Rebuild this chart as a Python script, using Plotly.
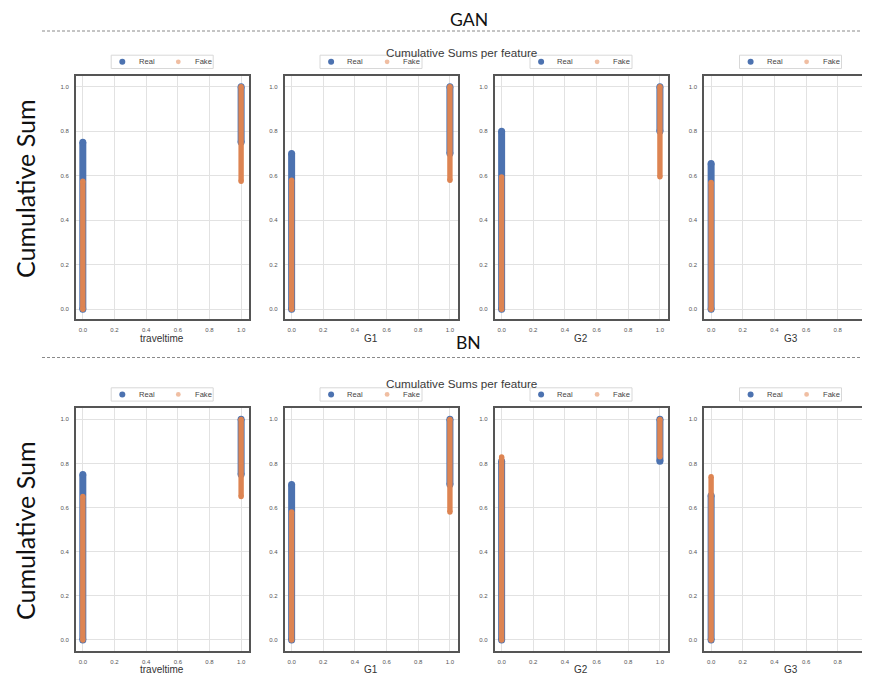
import plotly.graph_objects as go

# ---------------- data ----------------
features = ["traveltime", "G1", "G2", "G3"]
feature_values = [0, 1]                       # binary feature values on the x axis
gan_real_zero_share = [0.75, 0.70, 0.80, 0.655]   # cumulative sum reached at value 0
gan_fake_zero_share = [0.575, 0.58, 0.595, 0.57]
bn_real_zero_share = [0.75, 0.705, 0.81, 0.655]
bn_fake_zero_share = [0.65, 0.58, 0.83, 0.74]
row_titles = ["GAN", "BN"]
series_names = ["Real", "Fake"]
tick_values = [0.0, 0.2, 0.4, 0.6, 0.8, 1.0]
suptitle = "Cumulative Sums per feature"
big_ylabel = "Cumulative Sum"

# ---------------- layout helpers ----------------
# The page body keeps its default 8px margin, so the figure is made 8px
# smaller and every screen position is shifted by that margin.
PAGE_W, PAGE_H = 870, 681
OFF = 8
W, H = PAGE_W - OFF, PAGE_H - OFF


def px(x):
    return (x - OFF) / W


def py(y):
    return 1 - (y - OFF) / H


REAL = "#4C72B0"
FAKE = "#DD8452"
FAKE_LEGEND = "#F0BEA2"
FRAME = "#555555"
GRID = "#E2E2E2"

col_left = [75.7, 284.5, 494.5, 704.0]
panel_w = 173.3
row_top = [75.7, 408.3]
panel_h = [243.3, 242.7]
y_ranges = [[-0.0436, 1.0494], [-0.05, 1.05]]
x_unit = 158.3
x_left = -0.045
axis_title_y = [338.5, 669.5]

rows_data = [
    (gan_real_zero_share, gan_fake_zero_share),
    (bn_real_zero_share, bn_fake_zero_share),
]

fig = go.Figure()
shapes = []
annotations = []

for r in range(2):
    real_vals, fake_vals = rows_data[r]
    top = row_top[r]
    bottom = top + panel_h[r]
    for c in range(4):
        idx = r * 4 + c + 1
        left = col_left[c]
        right = min(left + panel_w, PAGE_W)
        x_right = x_left + (right - left) / x_unit
        xname = "x" if idx == 1 else f"x{idx}"
        yname = "y" if idx == 1 else f"y{idx}"
        xkey = "xaxis" if idx == 1 else f"xaxis{idx}"
        ykey = "yaxis" if idx == 1 else f"yaxis{idx}"

        for name, p0, color, width in [
            (series_names[0], real_vals[c], REAL, 7.0),
            (series_names[1], fake_vals[c], FAKE, 5.4),
        ]:
            v0, v1 = feature_values
            fig.add_trace(go.Scatter(
                x=[v0, v0, None, v1, v1],
                y=[0, p0, None, p0, 1],
                mode="lines+markers",
                line=dict(color=color, width=width),
                marker=dict(color=color, size=width),
                name=name,
                showlegend=False,
                xaxis=xname, yaxis=yname,
                hoverinfo="x+y+name",
            ))

        fig.update_layout({
            xkey: dict(
                domain=[px(left), min(px(right), 1)],
                range=[x_left, x_right],
                anchor=yname,
                automargin=False,
                showgrid=True, gridcolor=GRID, gridwidth=1,
                zeroline=False,
                showline=True, linecolor=FRAME, linewidth=1.5, mirror=True,
                tickvals=tick_values, tickformat=".1f",
                tickfont=dict(size=6, color="#555555"),
                ticks="outside", ticklen=4, tickcolor="rgba(0,0,0,0)",
                fixedrange=True,
            ),
            ykey: dict(
                domain=[py(bottom), py(top)],
                range=y_ranges[r],
                anchor=xname,
                automargin=False,
                showgrid=True, gridcolor=GRID, gridwidth=1,
                zeroline=False,
                showline=True, linecolor=FRAME, linewidth=1.5,
                mirror=(c < 3),
                tickvals=tick_values, tickformat=".1f",
                tickfont=dict(size=6, color="#555555"),
                ticks="outside", ticklen=4, tickcolor="rgba(0,0,0,0)",
                fixedrange=True,
            ),
        })

        # x-axis title (feature name) under each panel
        annotations.append(dict(text=features[c], xref="paper", yref="paper",
                                x=px(left + panel_w / 2), y=py(axis_title_y[r]),
                                xanchor="center", yanchor="middle",
                                borderpad=0, showarrow=False,
                                font=dict(size=10, color="#333333")))

        # per-panel legend box (Real / Fake)
        box_top = top - 20.5
        box_bot = top - 7.2
        cy = (box_top + box_bot) / 2
        shapes.append(dict(type="rect", xref="paper", yref="paper",
                           x0=px(left + 35.5), x1=px(min(left + 137.5, PAGE_W)),
                           y0=py(box_bot), y1=py(box_top),
                           line=dict(color="#D8D8D8", width=1),
                           fillcolor="white", layer="above"))
        for dx, rad, col in [(46.6, 3.0, REAL), (102.6, 2.4, FAKE_LEGEND)]:
            shapes.append(dict(type="circle", xref="paper", yref="paper",
                               xsizemode="pixel", ysizemode="pixel",
                               xanchor=px(left + dx), yanchor=py(cy),
                               x0=-rad, x1=rad, y0=-rad, y1=rad,
                               fillcolor=col, line=dict(width=0), layer="above"))
        for dx, txt in [(60.8, series_names[0]), (116.8, series_names[1])]:
            annotations.append(dict(text=txt, xref="paper", yref="paper",
                                    x=px(left + dx), y=py(cy),
                                    xanchor="left", yanchor="middle",
                                    showarrow=False,
                                    font=dict(size=7.6, color="#444444")))

# row titles, suptitles, separators, big y labels
row_title_y = [15, 340.5]
suptitle_y = [52.5, 383]
sep_y = [31, 357.5]
ylabel_y = [189, 531]
for r in range(2):
    if r == 0:
        # keep the top title box inside the figure
        annotations.append(dict(text=row_titles[r], xref="paper", yref="paper",
                                x=px(468.5), y=1, borderpad=0,
                                xanchor="center", yanchor="top", showarrow=False,
                                font=dict(family="Lato", size=17.6, color="#111111")))
    else:
        annotations.append(dict(text=row_titles[r], xref="paper", yref="paper",
                                x=px(468.5), y=py(row_title_y[r] + 1.5),
                                xanchor="center", yanchor="middle", showarrow=False,
                                font=dict(family="Lato", size=17.6, color="#111111")))
    annotations.append(dict(text=suptitle, xref="paper", yref="paper",
                            x=px(462), y=py(suptitle_y[r] + 0.5),
                            xanchor="center", yanchor="middle", showarrow=False,
                            font=dict(family="Liberation Sans", size=11.7,
                                      color="#3A3A3A")))
    annotations.append(dict(text=big_ylabel, xref="paper", yref="paper",
                            x=px(25), y=py(ylabel_y[r]), textangle=-90,
                            xanchor="center", yanchor="middle", showarrow=False,
                            font=dict(family="Lato", size=25, color="#111111")))
    shapes.append(dict(type="line", xref="paper", yref="paper",
                       x0=px(42), x1=1, y0=py(sep_y[r]), y1=py(sep_y[r]),
                       line=dict(color="#8A8A8A", width=1, dash="3px,2px")))

fig.update_layout(
    width=W, height=H,
    margin=dict(l=0, r=0, t=0, b=0, autoexpand=False),
    paper_bgcolor="white", plot_bgcolor="white",
    font=dict(family="Liberation Sans, Arial, sans-serif", color="#333333"),
    showlegend=False,
    shapes=shapes,
    annotations=annotations,
)

fig.write_html("out.html")
